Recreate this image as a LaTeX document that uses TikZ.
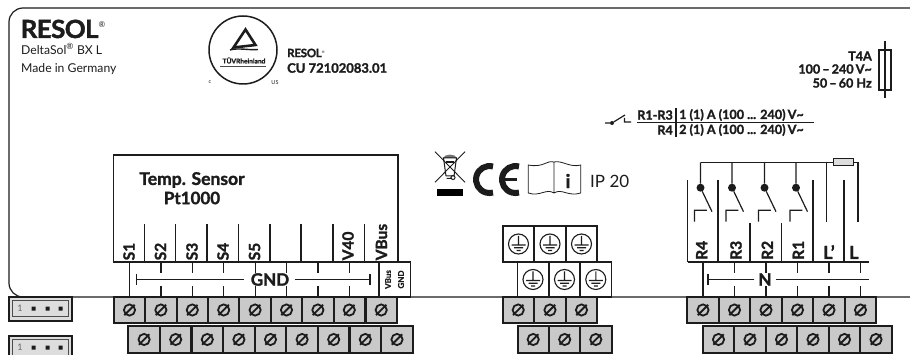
\documentclass[tikz,border=0pt]{standalone}
\usepackage{fontspec}
\setmainfont[BoldFeatures={FakeBold=1.6}]{Lato}
\usepackage{tikz}
\usetikzlibrary{positioning}
\definecolor{cellgrey}{HTML}{C9C9C9}
\definecolor{stripgrey}{HTML}{DDDDDD}
\definecolor{inkblack}{HTML}{1C1C1C}
\tikzset{
	wire/.style={line width=1.2pt, draw=inkblack},
	bar/.style={line width=1.7pt, draw=inkblack},
	termcell/.style={draw=inkblack, fill=cellgrey, line width=2pt, minimum width=31.4pt, inner sep=0pt, outer sep=0pt},
	earthcell/.style={draw=inkblack, fill=white, line width=1.6pt, minimum width=31.4pt, inner sep=0pt, outer sep=0pt},
	contactdot/.style={circle, fill=inkblack, minimum size=8pt, inner sep=0pt, outer sep=0pt},
	boxline/.style={draw=inkblack, line width=1.2pt, inner sep=0pt, outer sep=0pt},
	txt/.style={inner sep=0pt, text=inkblack},
	bigtag/.style={txt, font=\bfseries\fontsize{15.5}{17}\selectfont},
	ratetag/.style={txt, font=\bfseries\fontsize{12.6}{13}\selectfont},
	smalltag/.style={txt, font=\fontsize{12.2}{13}\selectfont}
}
\newcommand{\terminal}[4]% name, x, y, height
{\node[termcell, minimum height=#4pt] (#1) at (#2,#3) {};
	\draw[line width=1.8pt, draw=inkblack] (#1) circle (5.6) (#1) ++(-5.2,5.2) -- ++(10.4,-10.4);
}
\newcommand{\earth}[4]% name, x, y, height
{\node[earthcell, minimum height=#4pt] (#1) at (#2,#3) {};
	\draw[line width=1.1pt, draw=inkblack] (#1) circle (10) (#1) ++(0,-8) -- ++(0,9)
		(#1) ++(-7,1) -- ++(14,0) (#1) ++(-4.5,3.8) -- ++(9,0) (#1) ++(-2,6.5) -- ++(4,0);
}
\newcommand{\busdrop}[1]% terminal name
{\draw[wire] (#1.north) -- ++(0,-11) ++(0,-13) -- ++(0,-11);
}
\newcommand{\strip}[3]% name, x, y
{\node[draw=inkblack, fill=stripgrey, line width=1.8pt, minimum width=63pt, minimum height=24pt, inner sep=0pt] (#1) at (#2,#3) {};
	\node[draw=black!70, line width=.7pt, minimum width=56pt, minimum height=16pt, inner sep=0pt] (#1in) at (#1) {};
	\node[txt, font=\fontsize{9}{9}\selectfont, text=black!60] (#1one) at ([xshift=-20.5pt]#1) {1};
	\fill[inkblack] (#1) ++(-9,-2) rectangle ++(4,4) (#1) ++(5.2,-2) rectangle ++(4,4) (#1) ++(18,-2) rectangle ++(4,4);
}
\begin{document}
\begin{tikzpicture}[x=1pt,y=-1pt]
	\useasboundingbox (0,0) rectangle (910,355);
	% housing
	\draw[line width=1.2pt, draw=inkblack, rounded corners=14pt] (915,297) -- (9,297) -- (9,8) -- (915,8);

	% maker and model
	\node[txt, anchor=base west, font=\bfseries\fontsize{25}{25}\selectfont] (logo) at (20.5,38) {{\addfontfeature{FakeBold=3.5,FakeStretch=1.04,LetterSpace=-2.5}RESOL}\raisebox{10pt}{\fontsize{8}{8}\mdseries\selectfont\textregistered}};
	\node[smalltag, anchor=west] (model) at (21,49) {DeltaSol\textsuperscript{\textregistered} BX L};
	\node[smalltag, anchor=west] (origin) at (21,69) {Made in Germany};

	% test mark
	\node[circle, draw=inkblack, line width=1.5pt, minimum size=68pt, inner sep=0pt] (tuev) at (243,50) {};
	\draw[inkblack, line width=2.6pt, line join=miter] (245.5,29.5) -- (233.5,47.5) -- (255.5,45) -- cycle;
	\draw[inkblack, line width=1.4pt] (230,50) .. controls (238,47.5) and (250,50.5) .. (258,49.5);
	\node[txt, font=\bfseries\fontsize{6.6}{7}\selectfont] (tuevname) at (244,60.5) {TÜVRheinland};
	\draw[black!70, line width=1pt] (tuev.center) ++(-23,16.5) -- ++(46,0);
	\node[txt, font=\fontsize{5.5}{6}\selectfont] (markc) at (210,82.5) {c};
	\node[txt, font=\fontsize{5.5}{6}\selectfont] (markus) at (275,82.5) {US};
	\node[txt, anchor=west, font=\bfseries\fontsize{11.5}{12}\selectfont] (logosmall) at (287,53) {{\addfontfeature{FakeBold=2.5,LetterSpace=-2}RESOL}\raisebox{4pt}{\fontsize{3.5}{4}\mdseries\selectfont\textregistered}};
	\node[ratetag, anchor=west, font=\bfseries\fontsize{13}{13}\selectfont] (certno) at (287,68) {CU 72102083.01};

	% mains rating
	\node[ratetag, anchor=east] (fuserate) at (872,56) {T4A};
	\node[ratetag, anchor=east] (volts) at (872,69) {100\,–\,240\,V\textasciitilde};
	\node[ratetag, anchor=east] (hertz) at (872,83) {50\,–\,60 Hz};
	\node[boxline, minimum width=12pt, minimum height=40pt] (mainsfuse) at (885,70) {};
	\draw[bar] (mainsfuse.center) ++(0,-29) -- ++(0,57);

	% relay rating
	\node[contactdot, minimum size=4pt] (ratedot) at (612,123) {};
	\draw[wire] (ratedot) -- ++(-7,0) (ratedot) -- ++(13,-8) (ratedot) ++(12.5,-5) -- ++(0,4) -- ++(6.5,0);
	\node[ratetag, anchor=east] (ratea) at (673,115) {R1-R3};
	\node[ratetag, anchor=east] (rateb) at (673,130) {R4};
	\node[ratetag, anchor=west] (ratec) at (679,115) {1 (1) A (100 ... 240)\,V\textasciitilde};
	\node[ratetag, anchor=west] (rated) at (679,130) {2 (1) A (100 ... 240)\,V\textasciitilde};
	\draw[wire] (637,122.5) -- (814,122.5);
	\draw[wire] (676,108) -- (676,137);

	% disposal, ce, manual, ip
	\draw[inkblack, line width=.9pt] (435,151.7) -- (465,182.3) (465,151.7) -- (435,182.3);
	\fill[black!55] (443,158) .. controls (445,153.5) and (455,153.5) .. (457,158) -- cycle;
	\draw[inkblack, line width=1pt] (443.5,158) -- (456.5,158) -- (454,176) -- (446,176) -- cycle;
	\fill[inkblack] (446,161) rectangle (454,163.5);
	\draw[inkblack, line width=1pt] (446.5,178.5) -- (451,178.5) (453,177.5) circle (2);
	\fill[black] (436.7,189.3) rectangle (463.3,196);
	\draw[inkblack, line width=6pt] (493,166.5) arc (-75:-285:13.5);
	\draw[inkblack, line width=6pt] (519,166.5) arc (-75:-285:13.5);
	\draw[inkblack, line width=3pt] (504,179.5) -- (517,179.5);
	\draw[inkblack, line width=.8pt] (554,162) .. controls (546,160) and (544,168) .. (528.3,165) -- (528.3,193)
		.. controls (540,197) and (546,188) .. (554,193) .. controls (562,188) and (568,197) .. (580.7,193) -- (580.7,165)
		.. controls (570,168) and (562,160) .. (554,162) -- cycle (554,162) -- (554,193);
	\node[txt, font=\rmfamily\bfseries\fontsize{19}{19}\selectfont] (manual) at (568,181) {i};
	\node[txt, anchor=west, font=\fontsize{17}{17}\selectfont] (ipclass) at (590,181.5) {IP 20};

	% sensor side
	\node[boxline, minimum width=284.5pt, minimum height=107pt] (sensorbox) at (255.75,208.5) {};
	\node[boxline, minimum width=31.7pt, minimum height=35pt] (vbusbox) at (394.85,279.5) {};
	\node[bigtag, font=\bfseries\fontsize{17.5}{18}\selectfont] (sensora) at (192,180) {Temp. Sensor};
	\node[bigtag, font=\bfseries\fontsize{17}{18}\selectfont] (sensorb) at (192,198) {Pt1000};
	\node[bigtag, rotate=90, anchor=west] (s1) at (129,260.5) {S1};
	\node[bigtag, rotate=90, anchor=west] (s2) at (160.5,260.5) {S2};
	\node[bigtag, rotate=90, anchor=west] (s3) at (192,260.5) {S3};
	\node[bigtag, rotate=90, anchor=west] (s4) at (223,260.5) {S4};
	\node[bigtag, rotate=90, anchor=west] (s5) at (254.5,260.5) {S5};
	\node[bigtag, rotate=90, anchor=west] (v40) at (348,260.5) {V40};
	\node[bigtag, rotate=90, anchor=west] (vbus) at (381.5,260.5) {VBus};
	\node[txt, rotate=90, font=\bfseries\fontsize{8}{8}\selectfont] (vbusa) at (388,279.5) {VBus};
	\node[txt, rotate=90, font=\bfseries\fontsize{8}{8}\selectfont] (vbusb) at (401,279.5) {GND};
	\draw[wire] (144.5,224) -- (144.5,262);
	\draw[wire] (175.8,224) -- (175.8,262);
	\draw[wire] (207,224) -- (207,262);
	\draw[wire] (238.6,224) -- (238.6,262);
	\draw[wire] (270,224) -- (270,262);
	\draw[wire] (301,224) -- (301,262);
	\draw[wire] (333,224) -- (333,262);
	\draw[wire] (364.3,224) -- (364.3,262);
	\node[bigtag, font=\bfseries\fontsize{17}{17}\selectfont] (gnd) at (270,279.5) {GND};
	\draw[wire] (gnd.west) ++(-7,0) -- (136.7,279.5) ++(0,-5.5) -- ++(0,11);
	\draw[wire] (gnd.east) ++(6,0) -- (370,279.5) ++(0,-5.5) -- ++(0,11);

	% relay side
	\node[bigtag, rotate=90, anchor=west] (r4) at (701.7,260) {R4};
	\node[bigtag, rotate=90, anchor=west] (r3) at (736,260) {R3};
	\node[bigtag, rotate=90, anchor=west] (r2) at (767.3,260) {R2};
	\node[bigtag, rotate=90, anchor=west] (r1) at (798.3,260) {R1};
	\node[bigtag, anchor=base west, font=\bfseries\fontsize{18}{18}\selectfont] (ldash) at (823,259) {L'};
	\node[bigtag, anchor=base west, font=\bfseries\fontsize{18}{18}\selectfont] (lline) at (849,259) {L};
	\coordinate (railstart) at (700.5,162.5);
	\coordinate (railend) at (858,162.5);
	\node[draw=inkblack, fill=stripgrey, line width=1pt, minimum width=20.5pt, minimum height=7pt, inner sep=0pt] (relayfuse) at (843.5,162.5) {};
	\draw[wire] (railstart) -- (relayfuse) -- (railend) -- ++(0,59.5);
	\node[contactdot] (k4) at (700.5,187.7) {};
	\node[contactdot] (k3) at (732,187.7) {};
	\node[contactdot] (k2) at (764.5,187.7) {};
	\node[contactdot] (k1) at (796,187.7) {};
	\draw[wire] (railstart) -- (k4) -- ++(11.5,24) (k4) ++(-6,34) -- ++(0,-11.4) -- ++(12.4,0);
	\draw[wire] (k3 |- railstart) -- (k3) -- ++(11.5,24) (k3) ++(-6,34) -- ++(0,-11.4) -- ++(12.4,0);
	\draw[wire] (k2 |- railstart) -- (k2) -- ++(11.5,24) (k2) ++(-6,34) -- ++(0,-11.4) -- ++(12.4,0);
	\draw[wire] (k1 |- railstart) -- (k1) -- ++(11.5,24) (k1) ++(-6,34) -- ++(0,-11.4) -- ++(12.4,0);
	\draw[wire] (826.3,162.5) -- (826.3,221.7);
	\draw[wire] (687.5,262) -- (869,262);
	\draw[bar] (687.5,180) -- (687.5,262);
	\draw[bar] (718.3,180) -- (718.3,262);
	\draw[wire] (750,223) -- (750,262);
	\draw[wire] (781.3,223) -- (781.3,262);
	\draw[bar] (813,180) -- (813,262);
	\draw[bar] (844,180) -- (844,262);
	\node[bigtag, font=\bfseries\fontsize{17}{17}\selectfont] (neutral) at (765,279.5) {N};
	\draw[wire] (neutral.west) ++(-4,0) -- (708,279.5) ++(0,-5.5) -- ++(0,11);
	\draw[wire] (neutral.east) ++(4,0) -- (869,279.5);

	% terminals, sensor side
	\terminal{a0}{129.5}{310}{26};%0
	\terminal{a1}{160.9}{310}{26};%1
	\terminal{a2}{192.3}{310}{26};%2
	\terminal{a3}{223.7}{310}{26};%3
	\terminal{a4}{255.1}{310}{26};%4
	\terminal{a5}{286.5}{310}{26};%5
	\terminal{a6}{317.9}{310}{26};%6
	\terminal{a7}{349.3}{310}{26};%7
	\terminal{a8}{381.2}{310}{26};%8
	\terminal{b0}{144.1}{339.5}{27};%0
	\terminal{b1}{175.7}{339.5}{27};%1
	\terminal{b2}{207.3}{339.5}{27};%2
	\terminal{b3}{238.9}{339.5}{27};%3
	\terminal{b4}{270.5}{339.5}{27};%4
	\terminal{b5}{302.1}{339.5}{27};%5
	\terminal{b6}{333.7}{339.5}{27};%6
	\terminal{b7}{365.3}{339.5}{27};%7
	\terminal{b8}{397}{339.5}{27};%8
	\draw[wire] (a0.north) -- (a0.north |- sensorbox.south);
	\busdrop{a1};
	\busdrop{a2};
	\busdrop{a3};
	\busdrop{a4};
	\busdrop{a5};
	\busdrop{a6};
	\busdrop{a7};

	% earth and terminals, middle
	\earth{e0}{518.5}{244}{36.5};%0
	\earth{e1}{550}{244}{36.5};%1
	\earth{e2}{581.5}{244}{36.5};%2
	\earth{e3}{533}{279.5}{35};%3
	\earth{e4}{564.5}{279.5}{35};%4
	\earth{e5}{595.8}{279.5}{35};%5
	\terminal{c0}{518.2}{310}{26};%0
	\terminal{c1}{550}{310}{26};%1
	\terminal{c2}{581.5}{310}{26};%2
	\terminal{d0}{533.2}{339.5}{27};%0
	\terminal{d1}{564.7}{339.5}{27};%1
	\terminal{d2}{595.8}{339.5}{27};%2

	% terminals, relay side
	\terminal{f0}{703}{310}{26};%0
	\terminal{f1}{734.5}{310}{26};%1
	\terminal{f2}{766}{310}{26};%2
	\terminal{f3}{797.5}{310}{26};%3
	\terminal{f4}{829}{310}{26};%4
	\terminal{f5}{860.5}{310}{26};%5
	\terminal{g0}{718.5}{339.5}{27};%0
	\terminal{g1}{750}{339.5}{27};%1
	\terminal{g2}{781.5}{339.5}{27};%2
	\terminal{g3}{813}{339.5}{27};%3
	\terminal{g4}{844.5}{339.5}{27};%4
	\terminal{g5}{876}{339.5}{27};%5
	\draw[bar] (f0.north) -- ++(0,-35);
	\busdrop{f1};
	\busdrop{f2};
	\busdrop{f3};
	\busdrop{f4};
	\busdrop{f5};

	% plugs on the left
	\strip{plugup}{40.5}{308.7};
	\strip{plugdown}{40.5}{347.7};
\end{tikzpicture}
\end{document}
